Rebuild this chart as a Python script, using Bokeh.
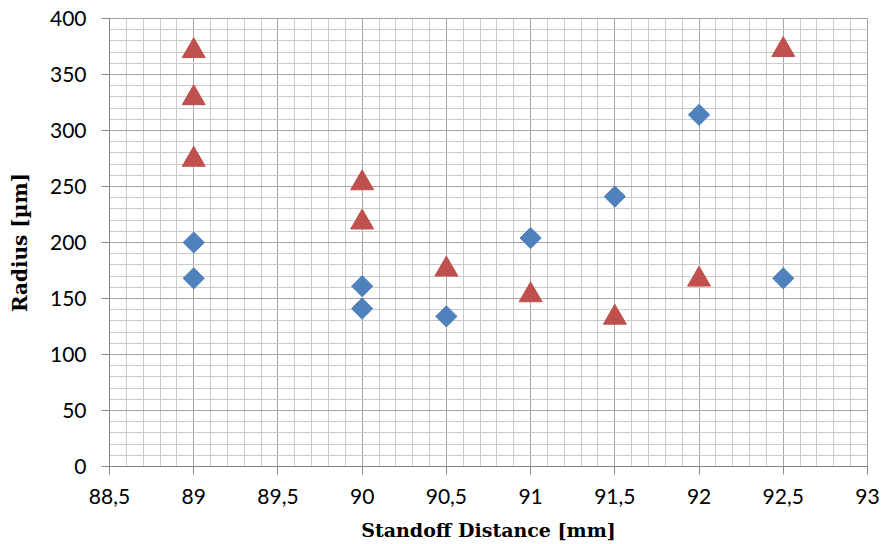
from bokeh.plotting import figure
from bokeh.models import FixedTicker, Range1d
from bokeh.embed import file_html
from bokeh.resources import INLINE
import numpy as np

# Data
diamond_x = [89, 89, 90, 90, 90.5, 91, 91.5, 92, 92.5]
diamond_y = [200, 168, 161, 141, 134, 204, 241, 314, 168]
triangle_x = [89, 89, 89, 90, 90, 90.5, 91, 91.5, 92, 92.5]
triangle_y = [371, 329, 274, 253, 218, 176, 153, 133, 167, 372]

x_ticks = [88.5, 89, 89.5, 90, 90.5, 91, 91.5, 92, 92.5, 93]
x_tick_labels = ["88,5", "89", "89,5", "90", "90,5", "91", "91,5", "92", "92,5", "93"]
y_ticks = [0, 50, 100, 150, 200, 250, 300, 350, 400]
x_title = "Standoff Distance [mm]"
y_title = "Radius [µm]"

x_minor = [round(v, 2) for v in np.arange(88.5, 93.001, 0.1)]
y_minor = list(range(0, 401, 10))

p = figure(width=883, height=544, output_backend="svg", toolbar_location=None,
           x_range=Range1d(88.5, 93), y_range=Range1d(0, 400),
           min_border_left=109, min_border_right=16, min_border_top=18, min_border_bottom=78)

p.background_fill_color = "white"
p.border_fill_color = "white"
p.outline_line_color = "#a0a0a0"

p.xaxis.ticker = FixedTicker(ticks=x_ticks, minor_ticks=x_minor)
p.yaxis.ticker = FixedTicker(ticks=y_ticks, minor_ticks=y_minor)
p.xaxis.major_label_overrides = {t: l for t, l in zip(x_ticks, x_tick_labels)}

for ax in (p.xaxis, p.yaxis):
    ax.axis_line_color = "#868686"
    ax.major_tick_line_color = "#868686"
    ax.major_tick_in = 0
    ax.major_tick_out = 8
    ax.minor_tick_in = 0
    ax.minor_tick_out = 0
    ax.major_label_text_font = "Lato"
    ax.major_label_text_font_size = "21px"
    ax.major_label_text_color = "#000000"
    ax.axis_label_text_font = "DejaVu Serif"
    ax.axis_label_text_font_style = "bold"
    ax.axis_label_text_color = "#000000"

p.xaxis.axis_label_text_font_size = "19px"
p.yaxis.axis_label_text_font_size = "20px"
p.xaxis.axis_label = x_title
p.yaxis.axis_label = y_title
p.xaxis.major_label_standoff = 14
p.yaxis.major_label_standoff = 15
p.xaxis.axis_label_standoff = 12
p.yaxis.axis_label_standoff = 15

for g in (p.xgrid, p.ygrid):
    g.grid_line_color = "#a6a6a6"
    g.grid_line_width = 1
    g.minor_grid_line_color = "#cbcbcb"
    g.minor_grid_line_width = 1

p.scatter(diamond_x, diamond_y, marker="square", angle=np.pi / 4, size=15,
          fill_color="#4F81BD", line_color="#4F81BD")
p.scatter(triangle_x, triangle_y, marker="triangle", size=23,
          fill_color="#C0504D", line_color="#C0504D")

open("out.html", "w").write(file_html(p, INLINE))
